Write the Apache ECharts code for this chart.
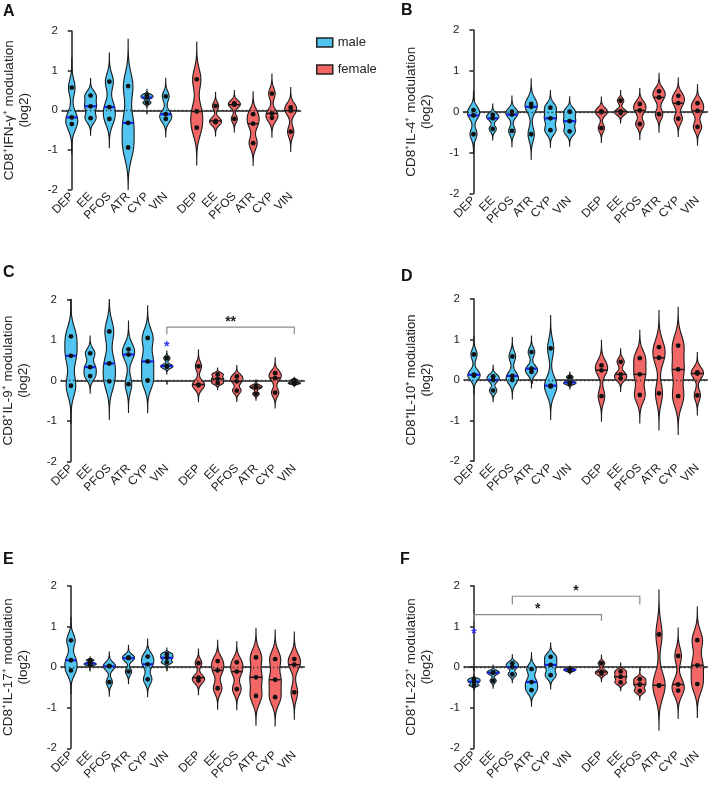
<!DOCTYPE html>
<html>
<head>
<meta charset="utf-8">
<title>CD8 violin plots</title>
<script src="https://cdn.jsdelivr.net/npm/echarts@6/dist/echarts.min.js"></script>
<style>
  html, body { margin: 0; padding: 0; background: #fff; }
  #main { width: 710px; height: 789px; }
</style>
</head>
<body>
<div id="main"></div>
<script type="text/javascript">
// treatments, same order for male and female
var groups = ['DEP', 'EE', 'PFOS', 'ATR', 'CYP', 'VIN'];
var yTicks = [-2, -1, 0, 1, 2];

// three animals per group, log2 modulation
var ifngMale = [[0.57, -0.18, -0.35], [0.37, 0.10, -0.20], [0.72, 0.08, -0.22], [0.61, -0.32, -0.94], [0.38, 0.32, 0.19], [0.35, -0.10, -0.22]];
var ifngFemale = [[0.78, -0.03, -0.44], [0.11, -0.27, -0.30], [0.17, 0.14, -0.22], [-0.10, -0.34, -0.83], [0.42, -0.08, -0.19], [0.07, -0.01, -0.54]];
var il4Male = [[0.04, -0.09, -0.55], [-0.08, -0.16, -0.42], [0.0, -0.07, -0.47], [0.19, 0.12, -0.55], [0.10, -0.16, -0.45], [0.0, -0.23, -0.48]];
var il4Female = [[0.01, -0.01, -0.40], [0.27, 0.01, -0.03], [0.19, 0.03, -0.30], [0.50, 0.35, -0.06], [0.39, 0.21, -0.17], [0.21, 0.02, -0.37]];
var il9Male = [[1.09, 0.61, -0.13], [0.67, 0.33, 0.11], [1.21, 0.42, -0.02], [0.77, 0.64, -0.09], [1.05, 0.47, 0.0], [0.55, 0.36, 0.34]];
var il9Female = [[0.35, -0.10, -0.12], [0.15, 0.04, -0.06], [0.10, -0.02, -0.25], [-0.14, -0.17, -0.33], [0.18, 0.06, -0.30], [0.01, -0.06, -0.08]];
var il10Male = [[0.63, 0.13, 0.11], [0.09, 0.0, -0.26], [0.58, 0.10, 0.0], [0.69, 0.28, 0.20], [0.78, -0.14, -0.16], [0.07, -0.06, -0.09]];
var il10Female = [[0.36, 0.24, -0.40], [0.45, 0.14, 0.04], [0.54, 0.14, -0.37], [0.81, 0.55, -0.33], [0.85, 0.26, -0.40], [0.19, 0.16, -0.38]];
var il17Male = [[0.66, 0.17, -0.08], [0.17, 0.09, 0.06], [0.03, 0.02, -0.37], [0.24, 0.22, -0.11], [0.26, 0.07, -0.30], [0.32, 0.23, 0.12]];
var il17Female = [[0.10, -0.26, -0.33], [0.15, -0.08, -0.52], [0.12, -0.11, -0.54], [0.24, -0.25, -0.71], [0.20, -0.31, -0.74], [0.20, 0.06, -0.62]];
var il22Male = [[-0.30, -0.36, -0.45], [-0.13, -0.14, -0.34], [0.09, 0.0, -0.18], [-0.05, -0.37, -0.57], [0.25, 0.05, -0.20], [-0.05, -0.07, -0.10]];
var il22Female = [[0.09, -0.12, -0.16], [-0.11, -0.24, -0.38], [-0.30, -0.43, -0.59], [0.80, -0.45, -0.46], [0.27, -0.43, -0.58], [0.66, 0.04, -0.42]];

// significance brackets: [from, to, top, leg end, text]
var bracketsC = [[5, 11.65, 1.32, 1.14, '**']];
var bracketsF = [[0, 6.65, 1.29, 1.13, '*'], [2, 8.65, 1.74, 1.54, '*']];
// blue stars: [x, y]
var starsC = [[5, 0.92]];
var starsF = [[0, 0.91]];

var femaleShift = 6.65;
var xMin = -0.52, xMax = 12.17;
var maleColor = '#52C5F0', femaleColor = '#F26666';
var font = 'Liberation Sans, Arial, sans-serif';

var panels = [
    { letter: 'A', label: 'CD8⁺IFN-γ⁺ modulation', male: ifngMale, female: ifngFemale, brackets: [], stars: [] },
    { letter: 'B', label: 'CD8⁺IL-4⁺ modulation', male: il4Male, female: il4Female, brackets: [], stars: [] },
    { letter: 'C', label: 'CD8⁺IL-9⁺ modulation', male: il9Male, female: il9Female, brackets: bracketsC, stars: starsC },
    { letter: 'D', label: 'CD8⁺IL-10⁺ modulation', male: il10Male, female: il10Female, brackets: [], stars: [] },
    { letter: 'E', label: 'CD8⁺IL-17⁺ modulation', male: il17Male, female: il17Female, brackets: [], stars: [] },
    { letter: 'F', label: 'CD8⁺IL-22⁺ modulation', male: il22Male, female: il22Female, brackets: bracketsF, stars: starsF }
];

// plot boxes (px)
var boxes = [
    { left: 62, top: 31, width: 238.5, height: 158.5 },
    { left: 463.5, top: 30, width: 244, height: 163.5 },
    { left: 61, top: 299.5, width: 243.3, height: 162 },
    { left: 464, top: 299, width: 243.3, height: 162 },
    { left: 61, top: 586, width: 243.3, height: 162.3 },
    { left: 464, top: 585.7, width: 243.3, height: 162.6 }
];
var letterPos = [[3, 4], [401, 3], [3, 265], [401, 269], [3, 552], [400, 552]];

var tickPos = [], tickName = {};
groups.forEach(function (g, i) {
    tickPos.push(i); tickName[i.toFixed(2)] = g;
    tickPos.push(i + femaleShift); tickName[(i + femaleShift).toFixed(2)] = g;
});
tickPos.sort(function (a, b) { return a - b; });

function makeViolin(medColor, medWidth) {
    return function (params, api) {
        var x = api.value(0);
        var vals = [api.value(1), api.value(2), api.value(3)].sort(function (a, b) { return a - b; });
        var n = vals.length;
        var mean = (vals[0] + vals[1] + vals[2]) / n;
        var ss = 0;
        vals.forEach(function (v) { ss += (v - mean) * (v - mean); });
        var sd = Math.sqrt(ss / (n - 1));
        var h = Math.max(0.42 * sd, 0.02);
        var lo = Math.max(vals[0] - 3.6 * h, -2);
        var hi = Math.min(vals[n - 1] + 3.6 * h, 2);
        var dens = function (y) {
            var s = 0;
            vals.forEach(function (v) { s += Math.exp(-0.5 * Math.pow((y - v) / h, 2)); });
            return s;
        };
        var N = 120, ys = [], ds = [], dmax = 0;
        for (var i = 0; i <= N; i++) {
            var y = lo + (hi - lo) * i / N;
            var d = dens(y);
            ys.push(y); ds.push(d);
            if (d > dmax) dmax = d;
        }
        var halfPx = api.size([0.32, 0])[0];
        var cx = api.coord([x, 0])[0];
        var left = [], right = [];
        for (var j = 0; j <= N; j++) {
            var w = ds[j] / dmax * halfPx;
            var py = api.coord([x, ys[j]])[1];
            left.push([cx - w, py]);
            right.unshift([cx + w, py]);
        }
        var med = vals[1];
        var mw = dens(med) / dmax * halfPx;
        var my = api.coord([x, med])[1];
        return {
            type: 'group',
            children: [
                { type: 'polygon', shape: { points: left.concat(right) },
                  style: { fill: api.visual('color'), stroke: '#1a1a1a', lineWidth: 1.1 } },
                { type: 'line', shape: { x1: cx - mw, y1: my, x2: cx + mw, y2: my },
                  style: { stroke: medColor, lineWidth: medWidth } }
            ]
        };
    };
}

var bracketText = {};

function renderBracket(params, api) {
    var a = api.coord([api.value(0), api.value(2)]);
    var b = api.coord([api.value(1), api.value(2)]);
    var legY = api.coord([0, api.value(3)])[1];
    var txt = bracketText[params.seriesIndex][params.dataIndex];
    return {
        type: 'group',
        children: [
            { type: 'polyline', shape: { points: [[a[0], legY], a, b, [b[0], legY]] },
              style: { stroke: '#8a8a8a', lineWidth: 1.2, fill: null } },
            { type: 'text', x: (a[0] + b[0]) / 2, y: a[1] + 2,
              style: { text: txt, fill: '#222', font: 'bold 14px ' + font, align: 'center', verticalAlign: 'bottom' } }
        ]
    };
}

function renderStar(params, api) {
    var p = api.coord([api.value(0), api.value(1)]);
    return { type: 'text', x: p[0], y: p[1] + 4,
             style: { text: '*', fill: '#2e2ef5', font: 'bold 14px ' + font, align: 'center', verticalAlign: 'middle' } };
}

var grids = [], xAxes = [], yAxes = [], series = [], graphics = [];

panels.forEach(function (p, k) {
    grids.push(Object.assign({ containLabel: false, outerBoundsMode: 'none' }, boxes[k]));
    xAxes.push({
        gridIndex: k, type: 'value', min: xMin, max: xMax,
        axisLine: { lineStyle: { color: '#222', width: 1.5 } },
        axisTick: { customValues: tickPos, length: 4, lineStyle: { color: '#222', width: 1.5 } },
        axisLabel: {
            customValues: tickPos, rotate: 45, margin: 5, fontSize: 12, color: '#222', fontFamily: font,
            formatter: function (v) { return tickName[Number(v).toFixed(2)] || ''; }
        },
        splitLine: { show: false }
    });
    yAxes.push({
        gridIndex: k, type: 'value', min: -2, max: 2, interval: 1,
        name: p.label + '\n(log2)', nameLocation: 'middle', nameRotate: 90, nameGap: 30,
        nameTextStyle: { fontSize: k === 3 ? 13 : 13.5, color: '#222', fontFamily: font, lineHeight: 15 },
        axisLine: { show: true, lineStyle: { color: '#222', width: 1.5 } },
        axisTick: { show: true, length: 4, lineStyle: { color: '#222', width: 1.5 } },
        axisLabel: { fontSize: 11.5, color: '#222', margin: 4, fontFamily: font,
                     formatter: function (v) { return yTicks.indexOf(v) >= 0 ? String(v) : ''; } },
        splitLine: { show: false }
    });

    var maleData = p.male.map(function (v, i) { return [i, v[0], v[1], v[2]]; });
    var femaleData = p.female.map(function (v, i) { return [i + femaleShift, v[0], v[1], v[2]]; });
    series.push({
        name: 'male', type: 'custom', xAxisIndex: k, yAxisIndex: k, color: maleColor,
        renderItem: makeViolin('#1a22e6', 2.2), encode: { x: 0, y: [1, 2, 3] }, data: maleData, silent: true
    });
    series.push({
        name: 'female', type: 'custom', xAxisIndex: k, yAxisIndex: k, color: femaleColor,
        renderItem: makeViolin('#1a1a1a', 1.5), encode: { x: 0, y: [1, 2, 3] }, data: femaleData, silent: true
    });

    var dots = [];
    p.male.forEach(function (v, i) { v.forEach(function (y) { dots.push([i, y]); }); });
    p.female.forEach(function (v, i) { v.forEach(function (y) { dots.push([i + femaleShift, y]); }); });
    series.push({
        type: 'scatter', xAxisIndex: k, yAxisIndex: k, data: dots, symbolSize: 4.8, silent: true,
        itemStyle: { color: '#111', opacity: 1 },
        markLine: {
            silent: true, symbol: ['none', 'none'], label: { show: false },
            lineStyle: { type: [1.3, 2.7], color: '#333', width: 1.3 },
            data: [{ yAxis: 0 }]
        }
    });

    if (p.brackets.length) {
        bracketText[series.length] = p.brackets.map(function (b) { return b[4]; });
        series.push({
            type: 'custom', xAxisIndex: k, yAxisIndex: k, renderItem: renderBracket, silent: true,
            data: p.brackets.map(function (b) { return [b[0], b[1], b[2], b[3]]; })
        });
    }
    if (p.stars.length) {
        series.push({
            type: 'custom', xAxisIndex: k, yAxisIndex: k, renderItem: renderStar, silent: true,
            data: p.stars
        });
    }

    graphics.push({
        type: 'text', left: letterPos[k][0], top: letterPos[k][1],
        style: { text: p.letter, font: 'bold 16px ' + font, fill: '#111' }
    });
});

var myChart = echarts.init(document.getElementById('main'));
var option = {
    animation: false,
    textStyle: { fontFamily: font },
    grid: grids,
    xAxis: xAxes,
    yAxis: yAxes,
    legend: {
        orient: 'vertical', left: 316, top: 36, padding: 0, itemWidth: 16, itemHeight: 9, itemGap: 14,
        textStyle: { fontSize: 13, color: '#222', fontFamily: font },
        data: [
            { name: 'male', icon: 'rect', itemStyle: { color: maleColor, borderColor: '#222', borderWidth: 1.5 } },
            { name: 'female', icon: 'rect', itemStyle: { color: femaleColor, borderColor: '#222', borderWidth: 1.5 } }
        ]
    },
    graphic: graphics,
    series: series
};
myChart.setOption(option);
</script>
</body>
</html>
